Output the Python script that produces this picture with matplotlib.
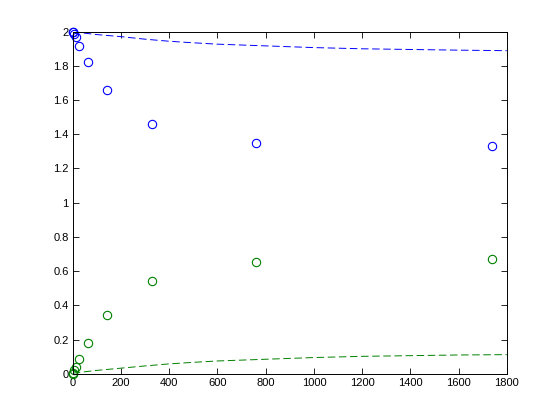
import matplotlib
matplotlib.use("Agg")
import matplotlib.pyplot as plt

# Marker data
x_pts = [0, 2.5, 6, 11.7, 27, 62, 141, 329, 760, 1738]
blue_pts = [2.0, 1.995, 1.985, 1.967, 1.918, 1.824, 1.660, 1.461, 1.350, 1.332]
green_pts = [0.0, 0.006, 0.02, 0.04, 0.086, 0.180, 0.342, 0.541, 0.652, 0.670]

# Dashed curves
x_line = [0, 50, 100, 200, 300, 400, 500, 600, 800, 1000, 1200, 1400, 1600, 1800]
blue_line = [2.0, 1.99, 1.982, 1.97, 1.955, 1.943, 1.934, 1.926, 1.916, 1.906, 1.899, 1.895, 1.891, 1.888]
green_line = [0.004, 0.012, 0.02, 0.033, 0.046, 0.058, 0.067, 0.075, 0.085, 0.095, 0.102, 0.106, 0.110, 0.112]

xticks = [0, 200, 400, 600, 800, 1000, 1200, 1400, 1600, 1800]
yticks = [0, 0.2, 0.4, 0.6, 0.8, 1, 1.2, 1.4, 1.6, 1.8, 2]
ytick_labels = ["0", "0.2", "0.4", "0.6", "0.8", "1", "1.2", "1.4", "1.6", "1.8", "2"]

plt.rcParams['font.family'] = ['Liberation Sans', 'DejaVu Sans']
plt.rcParams['lines.scale_dashes'] = False

fig = plt.figure(figsize=(5.6, 4.2), dpi=100)
ax = fig.add_axes([0.13, 0.11, 0.775, 0.815])

blue = (0, 0, 1)
green = (0, 0.5, 0)

ax.plot(x_line, blue_line, color=blue, lw=0.7, dashes=(5.4, 2.6))
ax.plot(x_line, green_line, color=green, lw=0.7, dashes=(5.4, 2.6))
ax.plot(x_pts, blue_pts, 'o', mfc='none', mec=blue, ms=6, mew=0.8, clip_on=False)
ax.plot(x_pts, green_pts, 'o', mfc='none', mec=green, ms=6, mew=0.8, clip_on=False)

ax.set_xlim(0, 1800)
ax.set_ylim(0, 2)
ax.set_xticks(xticks)
ax.set_xticklabels([str(t) for t in xticks])
ax.set_yticks(yticks)
ax.set_yticklabels(ytick_labels)
ax.tick_params(direction='in', top=True, right=True, length=4, width=0.6, labelsize=8, pad=3)
for s in ax.spines.values():
    s.set_linewidth(0.7)

fig.savefig("out.png", dpi=100)
